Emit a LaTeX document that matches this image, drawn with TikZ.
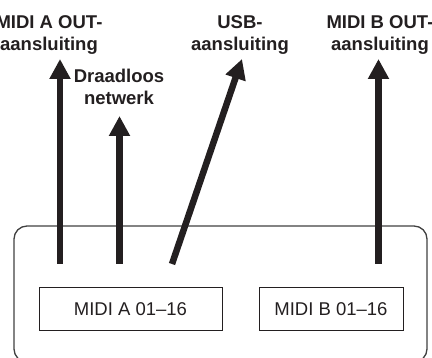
\documentclass[tikz,border=0pt]{standalone}
\usepackage{fontspec}
\setmainfont{Liberation Sans}
\usetikzlibrary{arrows.meta}
\definecolor{ink}{HTML}{231F20}
\begin{document}
\begin{tikzpicture}[x=1pt,y=-1pt,
  lbl/.style={font=\bfseries\fontsize{18.5}{22}\selectfont, text=ink, align=center, anchor=north, inner sep=0pt},
  chbox/.style={draw=ink, line width=0.9pt, minimum height=43pt, inner sep=0pt, font=\fontsize{18.5}{22}\selectfont, text=ink},
  outerbox/.style={draw=black!75, line width=1.3pt, rounded corners=13pt},
  bigarrow/.style={draw=ink, line width=6.5pt, -{Triangle[width=20pt,length=20pt]}}]
\useasboundingbox (0,0) rectangle (432,358);
% outer unit
\draw[outerbox] (14,226) rectangle (427,362);
% channel boxes
\node[chbox, minimum width=183pt] (ma) at (130.5,309) {MIDI A 01--16};
\node[chbox, minimum width=144pt] (mb) at (331,309) {MIDI B 01--16};
% labels
\node[lbl] (la) at (49,15) {MIDI A OUT-\\aansluiting};
\node[lbl] (lw) at (119,69.3) {Draadloos\\netwerk};
\node[lbl] (lu) at (240,15) {USB-\\aansluiting};
\node[lbl] (lb) at (380,15) {MIDI B OUT-\\aansluiting};
% arrow end points
\coordinate (a0) at (60,264);   \coordinate (a1) at (60,59);
\coordinate (w0) at (119.5,264); \coordinate (w1) at (119.5,116);
\coordinate (u0) at (172,264);  \coordinate (u1) at (242,59);
\coordinate (b0) at (378.5,264); \coordinate (b1) at (378.5,59);
\draw[bigarrow] (a0) -- (a1);
\draw[bigarrow] (w0) -- (w1);
\draw[bigarrow] (u0) -- (u1);
\draw[bigarrow] (b0) -- (b1);
\end{tikzpicture}
\end{document}
